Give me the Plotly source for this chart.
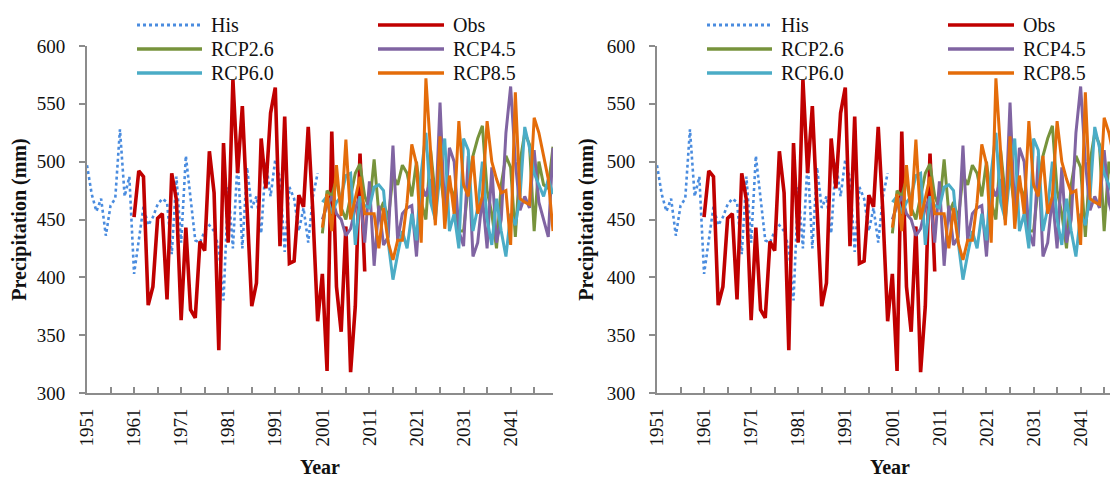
import plotly.graph_objects as go

# ---------------- data ----------------
his_years = list(range(1951, 2001))
his = [497, 472, 457, 468, 436, 462, 468, 528, 470, 487,
       403, 430, 461, 445, 452, 463, 468, 465, 420, 487,
       430, 505, 470, 432, 430, 440, 445, 440, 425, 380,
       478, 425, 502, 425, 495, 460, 470, 438, 500, 470,
       502, 485, 422, 478, 468, 440, 460, 430, 470, 490]

obs_years = list(range(1961, 2011))
obs = [452, 492, 487, 376, 392, 451, 455, 381, 490, 467,
       363, 443, 372, 365, 431, 423, 509, 473, 337, 516,
       430, 571, 490, 548, 460, 375, 395, 520, 477, 542,
       564, 427, 539, 412, 414, 471, 461, 530, 455, 362,
       403, 319, 526, 392, 353, 444, 318, 375, 507, 405]

rcp_years = list(range(2001, 2051))
rcp26 = [438, 475, 470, 485, 460, 450, 470, 490, 498, 470,
         460, 502, 455, 465, 450, 488, 480, 497, 490, 470,
         500, 465, 450, 510, 470, 490, 460, 480, 470, 440,
         440, 480, 505, 520, 531, 475, 455, 425, 480, 505,
         495, 435, 500, 525, 515, 440, 500, 480, 477, 513]
rcp45 = [450, 462, 470, 455, 450, 436, 442, 460, 470, 430,
         483, 410, 462, 428, 435, 514, 432, 455, 460, 462,
         418, 480, 470, 485, 450, 551, 455, 512, 500, 440,
         427, 505, 418, 430, 470, 425, 495, 430, 450, 525,
         565, 500, 458, 470, 460, 510, 465, 450, 435, 512]
rcp60 = [465, 470, 455, 465, 470, 488, 490, 428, 470, 462,
         460, 478, 480, 475, 430, 398, 420, 440, 425, 455,
         432, 490, 525, 465, 450, 490, 520, 440, 455, 425,
         520, 510, 440, 460, 500, 450, 428, 468, 440, 418,
         455, 445, 470, 530, 512, 490, 480, 470, 485, 472]
rcp85 = [443, 472, 440, 497, 453, 519, 450, 470, 487, 455,
         455, 455, 425, 460, 430, 415, 432, 432, 465, 515,
         498, 430, 572, 505, 445, 522, 442, 488, 455, 535,
         480, 470, 505, 455, 470, 535, 500, 485, 473, 475,
         428, 560, 468, 465, 463, 538, 525, 505, 485, 440]

series_names = ["His", "Obs", "RCP2.6", "RCP4.5", "RCP6.0", "RCP8.5"]
y_ticks = [300, 350, 400, 450, 500, 550, 600]

# ---------------- styling ----------------
colors = {"His": "#4A8CDF", "Obs": "#C00000", "RCP2.6": "#77933C",
          "RCP4.5": "#8064A2", "RCP6.0": "#4BACC6", "RCP8.5": "#E46C0A"}
widths = {"His": 2.6, "Obs": 3.6, "RCP2.6": 3.0, "RCP4.5": 3.0,
          "RCP6.0": 3.0, "RCP8.5": 3.0}
dashes = {"His": "dot"}

data_map = {"His": (his_years, his), "Obs": (obs_years, obs),
            "RCP2.6": (rcp_years, rcp26), "RCP4.5": (rcp_years, rcp45),
            "RCP6.0": (rcp_years, rcp60), "RCP8.5": (rcp_years, rcp85)}

W, H = 1118, 480
OFF = 8  # page body margin offset compensation
FONT = "Liberation Serif"
AXC = "#8C8C8C"

fig = go.Figure()

panels = [("x", "y"), ("x2", "y2")]
for xa, ya in panels:
    for name in series_names:
        xs, ys = data_map[name]
        fig.add_trace(go.Scatter(
            x=xs, y=ys, mode="lines", name=name, showlegend=False,
            xaxis=xa, yaxis=ya,
            line=dict(color=colors[name], width=widths[name],
                      dash=dashes.get(name, "solid"))))

# target screen pixels -> figure pixels
top_px, bot_px = 46 - OFF, 393 - OFF
ydom = [(H - bot_px) / H, (H - top_px) / H]
panel_w = 466
left_x0 = 87 - OFF
right_x0 = 657 - OFF


def xaxis_cfg(x0, anchor):
    return dict(domain=[x0 / W, (x0 + panel_w) / W], range=[1951, 2050],
                anchor=anchor, automargin=False,
                showline=True, linecolor=AXC, linewidth=2,
                ticks="inside", ticklen=6, tickwidth=2, tickcolor=AXC,
                tick0=1951, dtick=10, tickangle=-90, ticklabelstandoff=6,
                showgrid=False, zeroline=False,
                tickfont=dict(family=FONT, size=19, color="#111"),
                minor=dict(dtick=5, tick0=1951, ticks="inside", ticklen=6,
                           tickwidth=2, tickcolor=AXC, showgrid=False),
                title=dict(text="Year", standoff=14,
                           font=dict(family=FONT, size=20, color="#111",
                                     weight="bold")))


def yaxis_cfg(anchor):
    return dict(domain=ydom, range=[300, 600], tickvals=y_ticks,
                anchor=anchor, automargin=False, showline=True,
                linecolor=AXC, linewidth=2,
                ticks="outside", ticklen=6, tickwidth=2, tickcolor=AXC,
                ticklabelstandoff=10,
                showgrid=False, zeroline=False,
                tickfont=dict(family=FONT, size=19, color="#111"),
                title=dict(text="Precipitation (mm)", standoff=8,
                           font=dict(family=FONT, size=20, color="#111",
                                     weight="bold")))


fig.update_layout(
    width=W, height=H, margin=dict(l=0, r=0, t=0, b=0, pad=0),
    autosize=False, showlegend=False,
    plot_bgcolor="white", paper_bgcolor="white",
    xaxis=xaxis_cfg(left_x0, "y"),
    yaxis=yaxis_cfg("x"),
    xaxis2=xaxis_cfg(right_x0, "y2"),
    yaxis2=yaxis_cfg("x2"),
)

# ---------------- manual legends ----------------
rows = [25, 49, 73]
legend_layout = [("His", 0, 0), ("Obs", 1, 0), ("RCP2.6", 0, 1),
                 ("RCP4.5", 1, 1), ("RCP6.0", 0, 2), ("RCP8.5", 1, 2)]
col_line = [(137, 202), (378, 444)]
shapes = []
annotations = []
for offset in (0, 657 - 87):
    for name, col, row in legend_layout:
        x0, x1 = col_line[col]
        yy = 1 - (rows[row] - OFF) / H
        shapes.append(dict(type="line", xref="paper", yref="paper",
                           x0=(x0 + offset - OFF) / W,
                           x1=(x1 + offset - OFF) / W,
                           y0=yy, y1=yy,
                           line=dict(color=colors[name],
                                     width=3.5 if name != "His" else 3,
                                     dash=dashes.get(name, "solid"))))
        annotations.append(dict(text=name, xref="paper", yref="paper",
                                x=(x1 + 7 + offset - OFF) / W, y=yy,
                                xanchor="left", yanchor="middle",
                                showarrow=False,
                                font=dict(family=FONT, size=20,
                                          color="#111")))
fig.update_layout(shapes=shapes, annotations=annotations)

fig.write_html("out.html")
